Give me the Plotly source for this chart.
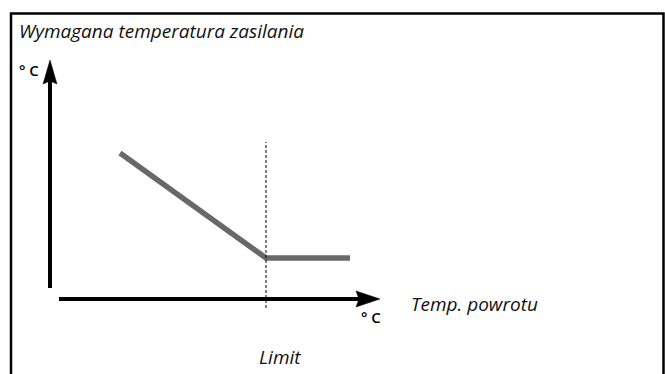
import plotly.graph_objects as go

# Supply temperature curve vs. return temperature (schematic units)
return_temp = [3.5, 10.8, 15.0]
supply_temp = [7.3, 2.05, 2.05]
limit_x = 10.8

title_text = "Wymagana temperatura zasilania"
x_label = "Temp. powrotu"
limit_label = "Limit"
unit_label = "° C"

W, H = 665, 374
# axis origin in pixels and scale (pixels per unit)
OX, OY, S = 50, 299, 20.0
x_range = [(0 - OX) / S, (W - OX) / S]
y_range = [(OY - H) / S, (OY - 0) / S]


def ux(px):
    return (px - OX) / S


def uy(py):
    return (OY - py) / S


FONT = "Open Sans"
fig = go.Figure()

# the curve
fig.add_trace(go.Scatter(
    x=return_temp, y=supply_temp, mode="lines",
    line=dict(color="#686868", width=5.5),
    hoverinfo="skip", showlegend=False,
))

shapes = []
# limit marker
shapes.append(dict(type="line", x0=limit_x, x1=limit_x, y0=uy(308), y1=uy(142),
                   line=dict(color="black", width=1, dash="3px,2px")))
# y axis with arrow head
y_tip = uy(60)
shapes.append(dict(type="line", x0=0, x1=0, y0=uy(288), y1=uy(80),
                   line=dict(color="black", width=4)))
hw, hl, notch = 7 / S, 24 / S, 3 / S
shapes.append(dict(type="path",
                   path=f"M {0} {y_tip} L {-hw} {y_tip - hl} L {0} {y_tip - hl + notch} L {hw} {y_tip - hl} Z",
                   fillcolor="black", line=dict(color="black", width=0.5)))
# x axis with arrow head
x_tip = ux(380)
shapes.append(dict(type="line", x0=ux(59), x1=ux(362), y0=0, y1=0,
                   line=dict(color="black", width=4)))
hw2 = 8 / S
shapes.append(dict(type="path",
                   path=f"M {x_tip} {0} L {x_tip - hl} {hw2} L {x_tip - hl + notch} {0} L {x_tip - hl} {-hw2} Z",
                   fillcolor="black", line=dict(color="black", width=0.5)))
# frame
shapes.append(dict(type="path",
                   path=f"M {ux(11)} {uy(380)} L {ux(11)} {uy(13.5)} L {ux(663.5)} {uy(13.5)} L {ux(663.5)} {uy(380)}",
                   line=dict(color="black", width=2.5)))

fig.update_layout(shapes=shapes)

ann = []
ann.append(dict(x=ux(17), y=uy(31), text=title_text, showarrow=False,
                xanchor="left", yanchor="middle",
                font=dict(family=FONT, size=19, color="#111", style="italic")))
ann.append(dict(x=ux(17), y=uy(70), text=unit_label, showarrow=False,
                xanchor="left", yanchor="middle",
                font=dict(family=FONT, size=15, color="black", weight=600)))
ann.append(dict(x=ux(359), y=uy(317), text=unit_label, showarrow=False,
                xanchor="left", yanchor="middle",
                font=dict(family=FONT, size=15, color="black", weight=600)))
ann.append(dict(x=ux(409), y=uy(304), text=x_label, showarrow=False,
                xanchor="left", yanchor="middle",
                font=dict(family=FONT, size=19, color="#111", style="italic")))
ann.append(dict(x=ux(257), y=uy(357), text=limit_label, showarrow=False,
                xanchor="left", yanchor="middle",
                font=dict(family=FONT, size=19, color="#111", style="italic")))
fig.update_layout(annotations=ann)

fig.update_layout(
    width=W, height=H,
    margin=dict(l=0, r=0, t=0, b=0),
    paper_bgcolor="white", plot_bgcolor="white",
    xaxis=dict(range=x_range, visible=False, fixedrange=True),
    yaxis=dict(range=y_range, visible=False, fixedrange=True),
    showlegend=False,
)

fig.write_html("out.html", config={"displayModeBar": False})
